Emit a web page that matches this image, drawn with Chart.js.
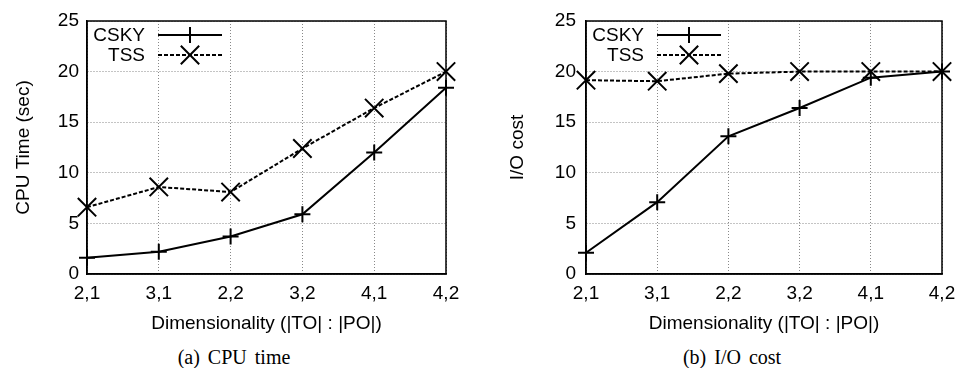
<!DOCTYPE html>
<html>
<head>
  <title>CSKY vs TSS</title>
  <script src="https://cdn.jsdelivr.net/npm/chart.js"></script>
  <style>
    html, body { margin: 0; padding: 0; background: #fff; overflow: hidden; }
    body { width: 957px; height: 368px; position: relative; }
    .box { position: absolute; top: 0; height: 340px; }
    .cap { position: absolute; top: 346px; font-family: "Liberation Serif", serif; font-size: 20px; line-height: 22px; word-spacing: 3px; color: #000; white-space: pre; transform: translateX(-50%); }
  </style>
</head>
<body>
  <div class="box" style="left:0; width:478px;"><canvas id="cpuChart"></canvas></div>
  <div class="box" style="left:478px; width:479px;"><canvas id="ioChart"></canvas></div>
  <div class="cap" style="left:234px;">(a) CPU time</div>
  <div class="cap" style="left:732px;">(b) I/O cost</div>
  <script>
    const dims = ['2,1', '3,1', '2,2', '3,2', '4,1', '4,2'];
    const yTicks = [0, 5, 10, 15, 20, 25];

    const cpuCsky = [1.6, 2.2, 3.7, 5.9, 12.0, 18.4];
    const cpuTss = [6.6, 8.6, 8.1, 12.4, 16.4, 20.0];

    const ioCsky = [2.1, 7.1, 13.6, 16.4, 19.4, 20.0];
    const ioTss = [19.15, 19.05, 19.8, 20.0, 20.0, 20.0];

    const font = { family: 'Liberation Sans', size: 19 };

    // gnuplot style legend inside the plot, text left of the sample
    const insideLegend = {
      id: 'insideLegend',
      afterDraw(chart) {
        const { ctx, chartArea } = chart;
        ctx.save();
        ctx.font = '19px "Liberation Sans"';
        ctx.fillStyle = '#000';
        ctx.textAlign = 'right';
        ctx.textBaseline = 'middle';
        chart.data.datasets.forEach((ds, i) => {
          const y = chartArea.top + 14 + i * 20;
          ctx.fillText(ds.label, chartArea.left + 58, y + 1);
          ctx.strokeStyle = '#000';
          ctx.lineWidth = ds.borderWidth;
          ctx.setLineDash(ds.borderDash || []);
          ctx.beginPath();
          ctx.moveTo(chartArea.left + 71, y);
          ctx.lineTo(chartArea.left + 135, y);
          ctx.stroke();
          ctx.setLineDash([]);
          ctx.lineWidth = ds.pointBorderWidth;
          Chart.helpers.drawPoint(ctx, { pointStyle: ds.pointStyle, radius: ds.pointRadius, rotation: 0, borderWidth: ds.pointBorderWidth }, chartArea.left + 103, y);
        });
        ctx.restore();
      }
    };

    // full frame round the plot
    const frame = {
      id: 'frame',
      afterDatasetsDraw(chart) {
        const { ctx, chartArea: a } = chart;
        ctx.save();
        ctx.strokeStyle = '#000';
        ctx.lineWidth = 1.5;
        ctx.strokeRect(a.left, a.top, a.right - a.left, a.bottom - a.top);
        ctx.restore();
      }
    };

    function makeChart(id, yTitle, csky, tss, pad, yWidth, tickPad) {
      return new Chart(document.getElementById(id), {
        type: 'line',
        data: {
          labels: dims,
          datasets: [
            {
              label: 'CSKY', data: csky,
              borderColor: '#000', backgroundColor: '#000', borderWidth: 2,
              pointStyle: 'cross', pointRadius: 8, pointBorderWidth: 2, pointHoverRadius: 8,
              tension: 0
            },
            {
              label: 'TSS', data: tss,
              borderColor: '#000', backgroundColor: '#000', borderWidth: 2, borderDash: [4, 2],
              pointStyle: 'crossRot', pointRadius: 13, pointBorderWidth: 2, pointHoverRadius: 13,
              tension: 0
            }
          ]
        },
        options: {
          responsive: true,
          maintainAspectRatio: false,
          animation: false,
          events: [],
          clip: false,
          layout: { padding: pad },
          plugins: { legend: { display: false }, tooltip: { enabled: false } },
          scales: {
            x: {
              offset: false,
              grid: { color: '#888', drawTicks: false },
              border: { color: '#000', width: 1.5, dash: [1, 2] },
              ticks: { color: '#000', font: font, padding: 8, maxRotation: 0, autoSkip: false },
              title: { display: true, text: 'Dimensionality (|TO| : |PO|)', color: '#000', font: font, padding: 0 },
              afterFit(s) { s.paddingLeft = 0; s.paddingRight = 0; s.height = 61; }
            },
            y: {
              min: 0, max: 25,
              afterBuildTicks(s) { s.ticks = yTicks.map(v => ({ value: v })); },
              grid: { color: '#888', drawTicks: false },
              border: { color: '#000', width: 1.5, dash: [1, 2] },
              ticks: { color: '#000', font: font, padding: tickPad },
              title: { display: true, text: yTitle, color: '#000', font: font, padding: 0 },
              afterFit(s) { s.width = yWidth; s.paddingTop = 0; s.paddingBottom = 0; }
            }
          }
        },
        plugins: [frame, insideLegend]
      });
    }

    makeChart('cpuChart', 'CPU Time (sec)', cpuCsky, cpuTss,
      { left: 12, right: 32, top: 21, bottom: 5 }, 75, 8);
    makeChart('ioChart', 'I/O cost', ioCsky, ioTss,
      { left: 28, right: 13, top: 21, bottom: 5 }, 80, 10);
  </script>
</body>
</html>
